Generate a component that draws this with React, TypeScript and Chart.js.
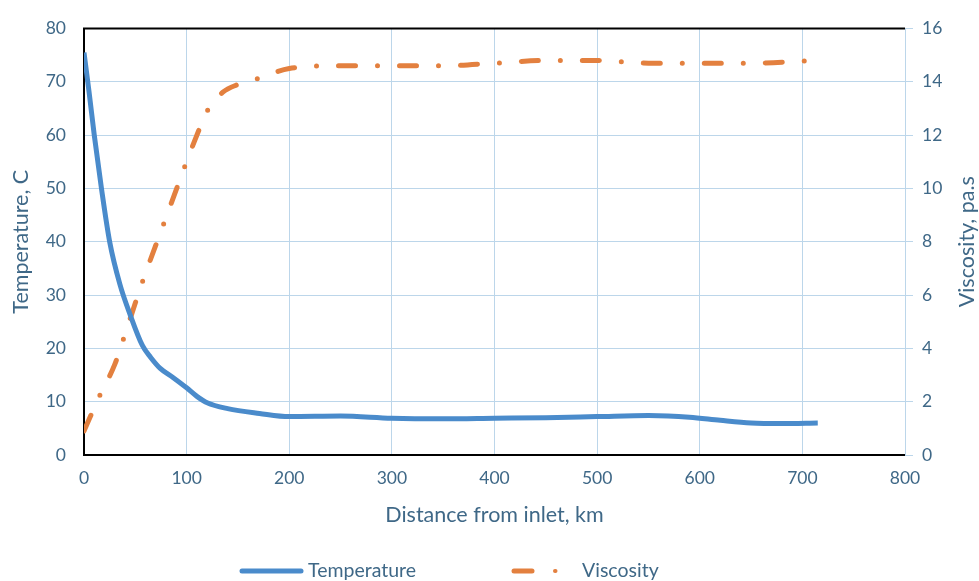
import React, { useEffect, useRef } from "react";
import { Chart, registerables } from "chart.js";

Chart.register(...registerables);

const tempKm = [0, 5, 10, 17, 25, 35, 45, 57, 65, 74, 87, 100, 110, 120, 140, 171, 200, 250, 300, 350, 400, 450, 500, 550, 590, 620, 650, 680, 715];
const tempC = [75.5, 68, 60, 50, 40, 32, 26.3, 20.5, 18.3, 16.3, 14.5, 12.6, 11, 9.8, 8.7, 7.8, 7.2, 7.3, 6.9, 6.8, 6.9, 7.0, 7.2, 7.4, 7.1, 6.5, 6.0, 5.9, 6.0];

const viscKm = [0, 15, 30, 38, 57, 77, 98, 110, 120, 135, 150, 168, 200, 250, 300, 350, 400, 450, 500, 550, 600, 650, 710];
const viscPas = [0.9, 2.2, 3.4, 4.3, 6.5, 8.6, 10.8, 12.0, 12.9, 13.6, 13.9, 14.1, 14.5, 14.6, 14.6, 14.6, 14.7, 14.8, 14.8, 14.7, 14.7, 14.7, 14.8];

const xTitle = "Distance from inlet, km";
const yTitle = "Temperature, C";
const y1Title = "Viscosity, pa.s";
const seriesNames = ["Temperature", "Viscosity"];

const BLUE = "#4A8BCB";
const ORANGE = "#E3803F";
const GRID = "#BCD6EA";
const TEXT = "#3F6887";
const FONT = "Lato";
const DASH = [17, 22, 0, 22];

const overlay = {
  id: "overlay",
  afterDraw(chart: any) {
    const { ctx, chartArea } = chart;
    const { left, right, top, bottom } = chartArea;
    ctx.save();
    ctx.strokeStyle = "#000";
    ctx.lineWidth = 2;
    ctx.beginPath();
    ctx.moveTo(left - 1, top);
    ctx.lineTo(right, top);
    ctx.stroke();

    // right axis title (bottom-to-top)
    ctx.fillStyle = TEXT;
    ctx.font = `21.5px ${FONT}`;
    ctx.textAlign = "center";
    ctx.textBaseline = "middle";
    ctx.save();
    ctx.translate(967, (top + bottom) / 2);
    ctx.rotate(-Math.PI / 2);
    ctx.fillText(y1Title, 0, 0);
    ctx.restore();

    // legend
    const ly = 571;
    ctx.lineWidth = 5;
    ctx.strokeStyle = BLUE;
    ctx.lineCap = "round";
    ctx.beginPath();
    ctx.moveTo(242, ly);
    ctx.lineTo(301, ly);
    ctx.stroke();
    ctx.strokeStyle = ORANGE;
    ctx.beginPath();
    ctx.moveTo(514, ly);
    ctx.lineTo(532, ly);
    ctx.stroke();
    ctx.lineWidth = 4;
    ctx.beginPath();
    ctx.moveTo(555, ly);
    ctx.lineTo(555.5, ly);
    ctx.stroke();
    ctx.font = `19.5px ${FONT}`;
    ctx.textAlign = "left";
    ctx.fillStyle = TEXT;
    ctx.fillText(seriesNames[0], 308, ly);
    ctx.fillText(seriesNames[1], 582, ly);
    ctx.restore();
  },
};

export default function App() {
  const ref = useRef<HTMLCanvasElement>(null);
  useEffect(() => {
    if (!ref.current) return;
    const chart = new Chart(ref.current, {
      type: "line",
      data: {
        datasets: [
          {
            label: seriesNames[0],
            data: tempKm.map((x, i) => ({ x, y: tempC[i] })),
            borderColor: BLUE,
            borderWidth: 5,
            pointRadius: 0,
            cubicInterpolationMode: "monotone",
            yAxisID: "y",
          },
          {
            label: seriesNames[1],
            data: viscKm.map((x, i) => ({ x, y: viscPas[i] })),
            borderColor: ORANGE,
            borderWidth: 5,
            borderDash: DASH,
            borderCapStyle: "round",
            pointRadius: 0,
            cubicInterpolationMode: "monotone",
            yAxisID: "y1",
          },
        ],
      },
      options: {
        responsive: false,
        animation: false,
        layout: { padding: { left: 0, right: 0, top: 24, bottom: 46 } },
        plugins: { legend: { display: false }, tooltip: { enabled: false } },
        scales: {
          x: {
            type: "linear",
            min: 0,
            max: 800,
            ticks: { stepSize: 100, color: TEXT, font: { family: FONT, size: 17.5 }, padding: 13 },
            grid: { color: GRID, lineWidth: 1, drawTicks: false },
            border: { color: "#000", width: 2 },
            title: { display: true, text: xTitle, color: TEXT, font: { family: FONT, size: 21.5 }, padding: { top: 0, bottom: 7 } },
            afterFit: (s: any) => { s.height = 80; },
          },
          y: {
            position: "left",
            min: 0,
            max: 80,
            ticks: { stepSize: 10, color: TEXT, font: { family: FONT, size: 17.5 }, padding: 18 },
            grid: { color: GRID, lineWidth: 1, drawTicks: false },
            border: { color: "#000", width: 2 },
            title: { display: true, text: yTitle, color: TEXT, font: { family: FONT, size: 21.5 }, padding: { top: 8, bottom: 0 } },
            afterFit: (s: any) => { s.width = 84; },
          },
          y1: {
            position: "right",
            min: 0,
            max: 16,
            ticks: { stepSize: 2, color: TEXT, font: { family: FONT, size: 17.5 }, padding: 9 },
            grid: { drawOnChartArea: false, drawTicks: true, tickLength: 8, color: GRID },
            border: { color: GRID, width: 1 },
            afterFit: (s: any) => { s.width = 74; },
          },
        },
      },
      plugins: [overlay],
    });
    return () => chart.destroy();
  }, []);
  return (
    <div style={{ position: "absolute", left: 0, top: 0, width: 979, height: 581, background: "#fff" }}>
      <canvas ref={ref} width={979} height={581} style={{ display: "block" }} />
    </div>
  );
}
